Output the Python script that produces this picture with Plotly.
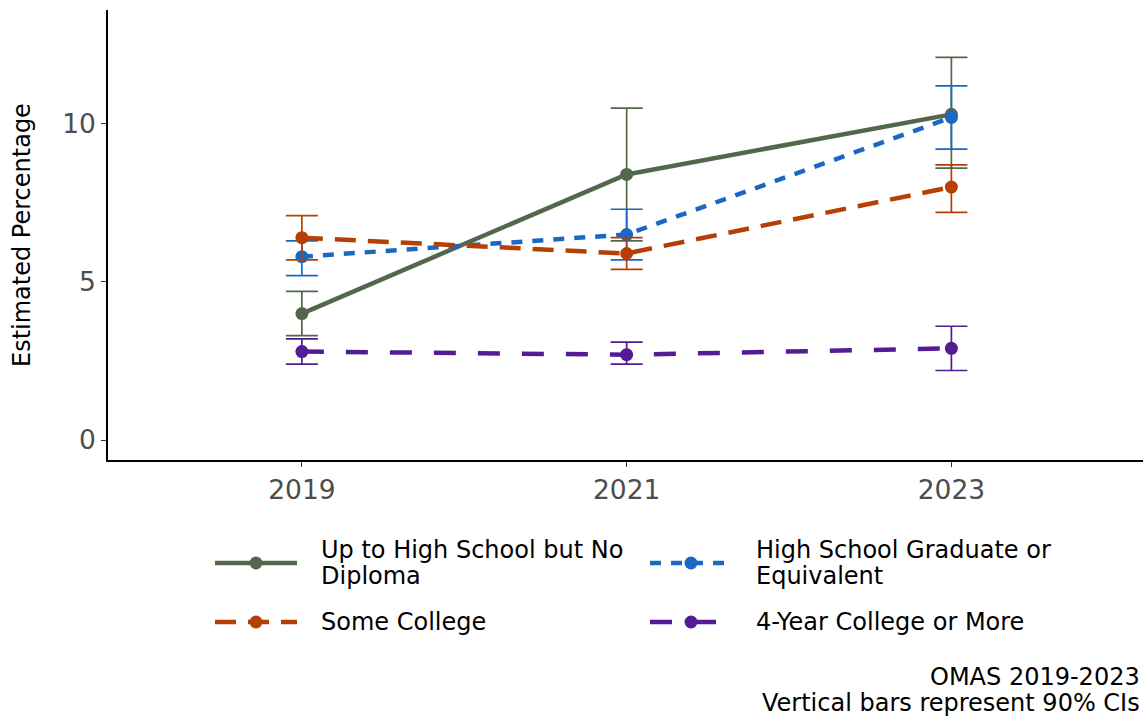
import plotly.graph_objects as go

# Survey years and estimates (percent) with 90% confidence limits
years = ["2019", "2021", "2023"]

groups = [
    "Up to High School but No Diploma",
    "High School Graduate or Equivalent",
    "Some College",
    "4-Year College or More",
]
# Legend text, wrapped as it is displayed
legend_lines = [
    ["Up to High School but No", "Diploma"],
    ["High School Graduate or", "Equivalent"],
    ["Some College"],
    ["4-Year College or More"],
]

no_diploma = [4.0, 8.4, 10.3]
no_diploma_lo = [3.3, 6.3, 8.6]
no_diploma_hi = [4.7, 10.5, 12.1]

hs_grad = [5.8, 6.5, 10.2]
hs_grad_lo = [5.2, 5.7, 9.2]
hs_grad_hi = [6.3, 7.3, 11.2]

some_college = [6.4, 5.9, 8.0]
some_college_lo = [5.7, 5.4, 7.2]
some_college_hi = [7.1, 6.4, 8.7]

college_plus = [2.8, 2.7, 2.9]
college_plus_lo = [2.4, 2.4, 2.2]
college_plus_hi = [3.2, 3.1, 3.6]

y_ticks = [0, 5, 10]

caption_lines = ["OMAS 2019-2023", "Vertical bars represent 90% CIs"]

estimates = [no_diploma, hs_grad, some_college, college_plus]
lows = [no_diploma_lo, hs_grad_lo, some_college_lo, college_plus_lo]
highs = [no_diploma_hi, hs_grad_hi, some_college_hi, college_plus_hi]

colors = ["#51694a", "#1a67c4", "#b53f04", "#531c93"]
dashes = ["solid", "11px,10px", "21px,12px", "22px,22px"]

FONT = "DejaVu Sans"
W, H = 1143, 718
M_L, M_R, M_T, M_B = 108, 0, 10, 258
PW, PH = W - M_L - M_R, H - M_T - M_B


def px_x(px):
    return (px - M_L) / PW


def px_y(py):
    return (H - M_B - py) / PH


fig = go.Figure()

for name, est, lo, hi, col, dash in zip(groups, estimates, lows, highs, colors, dashes):
    fig.add_trace(go.Scatter(
        x=years, y=est, name=name, mode="lines+markers",
        line=dict(color=col, width=4.5, dash=dash),
        marker=dict(color=col, size=13),
        error_y=dict(
            type="data", symmetric=False,
            array=[h - e for h, e in zip(hi, est)],
            arrayminus=[e - l for e, l in zip(est, lo)],
            color=col, thickness=1.7, width=16,
        ),
        showlegend=False,
    ))

# Legend keys drawn as line + point, two columns
shapes = []
annotations = []
key_pos = [(215, 563), (650, 563), (215, 622), (650, 622)]
LINE_GAP = 26
for (kx, ky), lines, col, dash in zip(key_pos, legend_lines, colors, dashes):
    shapes.append(dict(
        type="line", xref="paper", yref="paper",
        x0=px_x(kx), x1=px_x(kx + 82), y0=px_y(ky), y1=px_y(ky),
        line=dict(color=col, width=4.5, dash=dash),
    ))
    cx = kx + 41
    shapes.append(dict(
        type="circle", xref="paper", yref="paper",
        x0=px_x(cx - 6.5), x1=px_x(cx + 6.5), y0=px_y(ky - 6.5), y1=px_y(ky + 6.5),
        fillcolor=col, line=dict(color=col, width=0),
    ))
    top = ky - (len(lines) - 1) * LINE_GAP / 2
    for i, txt in enumerate(lines):
        annotations.append(dict(
            xref="paper", yref="paper", x=px_x(kx + 104), y=px_y(top + i * LINE_GAP),
            xanchor="left", yanchor="middle", align="left", showarrow=False,
            text=txt, font=dict(family=FONT, size=24, color="#000000"),
        ))

for i, txt in enumerate(caption_lines):
    annotations.append(dict(
        xref="paper", yref="paper", x=px_x(1142), y=px_y(677 + i * 26),
        xanchor="right", yanchor="middle", align="right", showarrow=False,
        text=txt, font=dict(family=FONT, size=24, color="#000000"),
    ))

# Y-axis title
annotations.append(dict(
    xref="paper", yref="paper", x=px_x(22), y=px_y(235),
    xanchor="center", yanchor="middle", textangle=-90, showarrow=False,
    text="Estimated Percentage", font=dict(family=FONT, size=24, color="#000000"),
))

fig.update_layout(
    width=W, height=H,
    margin=dict(l=M_L, r=M_R, t=M_T, b=M_B),
    paper_bgcolor="white", plot_bgcolor="white",
    font=dict(family=FONT, color="#000000"),
    shapes=shapes, annotations=annotations,
    showlegend=False,
)

fig.update_xaxes(
    type="category", range=[-0.597, 2.59],
    showgrid=False, zeroline=False,
    showline=True, linecolor="#000000", linewidth=1.6,
    ticks="outside", ticklen=5, tickwidth=1.2, tickcolor="#333333",
    tickfont=dict(family=FONT, size=26.5, color="#4d4d4d"),
)
fig.update_yaxes(
    range=[-0.63, 13.6], tickvals=y_ticks,
    showgrid=False, zeroline=False,
    showline=True, linecolor="#000000", linewidth=1.6,
    ticks="outside", ticklen=5, tickwidth=1.2, tickcolor="#333333",
    tickfont=dict(family=FONT, size=26.5, color="#4d4d4d"),
)

fig.write_html("out.html")
